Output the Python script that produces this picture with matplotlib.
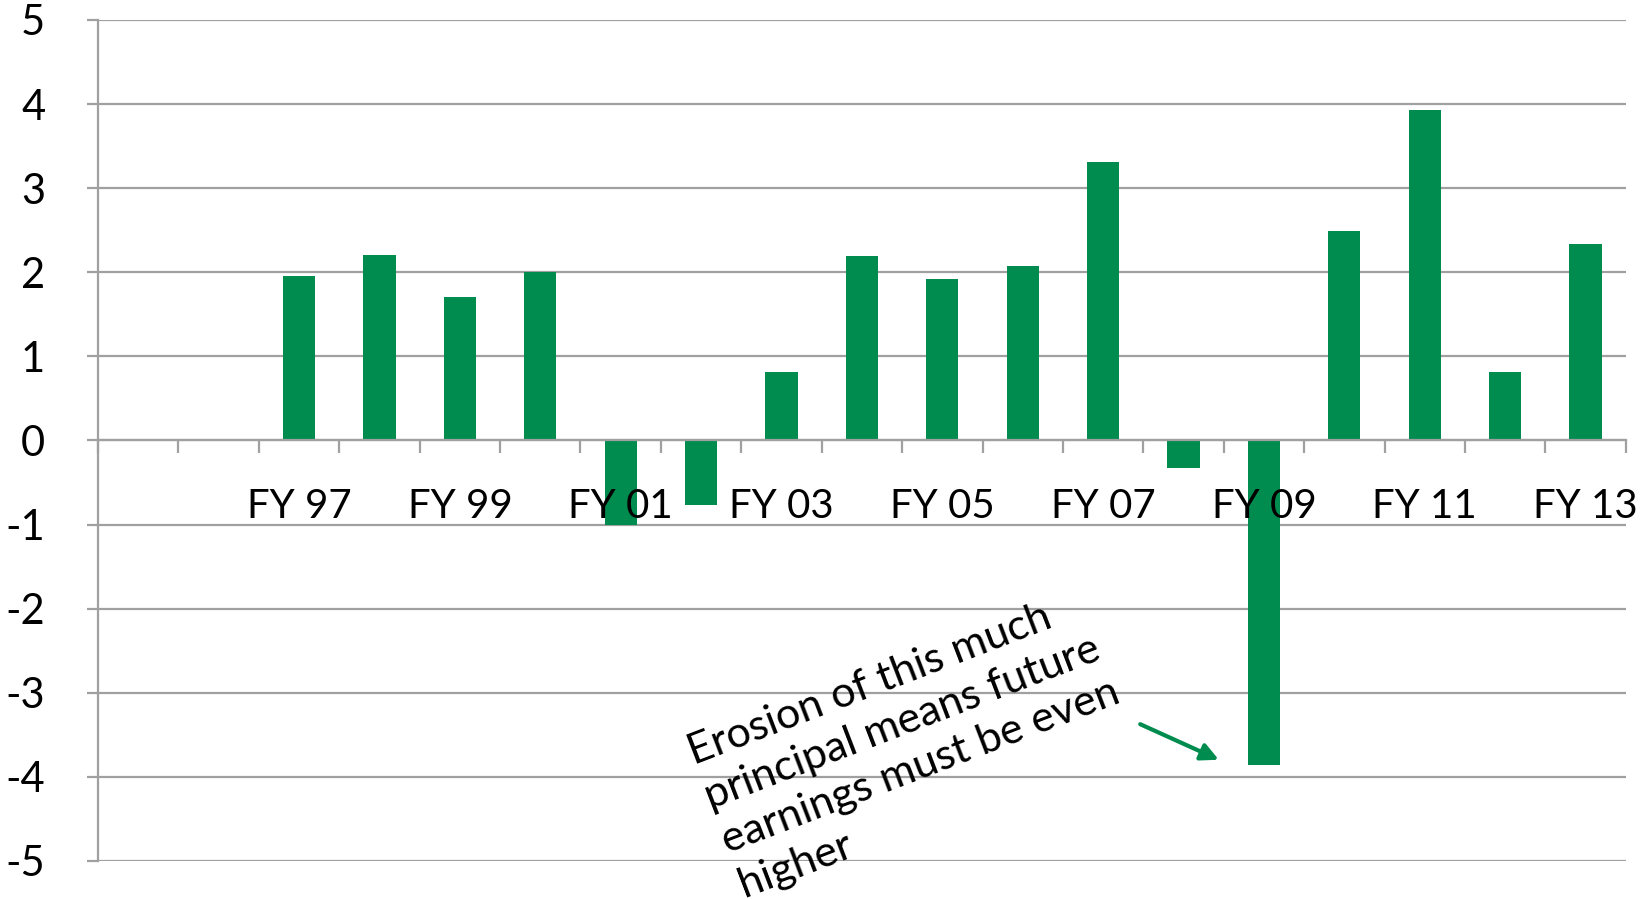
import matplotlib
matplotlib.use("Agg")
import matplotlib.pyplot as plt
from matplotlib.ticker import FixedLocator, NullFormatter
import numpy as np

# data (first two slots have no bar and no label)
years = ['', '', 'FY 97', 'FY 98', 'FY 99', 'FY 00', 'FY 01', 'FY 02', 'FY 03',
         'FY 04', 'FY 05', 'FY 06', 'FY 07', 'FY 08', 'FY 09', 'FY 10',
         'FY 11', 'FY 12', 'FY 13']
values = [np.nan, np.nan, 1.95, 2.21, 1.70, 2.0, -1.0, -0.77, 0.81,
          2.19, 1.92, 2.07, 3.31, -0.33, -3.86, 2.49,
          3.93, 0.82, 2.34]
yticks = [-5, -4, -3, -2, -1, 0, 1, 2, 3, 4, 5]
note = "Erosion of this much\nprincipal means future\nearnings must be even\nhigher"

green = '#008C4E'
grey = '#A0A0A0'

plt.rcParams['font.family'] = ['Lato', 'DejaVu Sans']

fig = plt.figure(figsize=(16.48, 8.99), dpi=100)
ax = fig.add_axes([0.0595, 0.0423, 0.927, 0.9355])

x = np.arange(len(years))
ax.bar(x, values, width=0.4, color=green, zorder=1)

ax.set_xlim(-0.5, len(years) - 0.5)
ax.set_ylim(-5, 5)

# gridlines under the bars
ax.hlines(yticks, -0.5, len(years) - 0.5, colors=grey, linewidth=1.6, zorder=0.5)

for s in ['top', 'right']:
    ax.spines[s].set_visible(False)
ax.spines['left'].set_color(grey)
ax.spines['left'].set_linewidth(1.6)
ax.spines['bottom'].set_position(('data', 0))
ax.spines['bottom'].set_color(grey)
ax.spines['bottom'].set_linewidth(1.6)

ax.set_yticks(yticks)
ax.set_yticklabels([str(v) for v in yticks])
ax.tick_params(axis='y', length=8, width=1.6, color=grey, pad=30, labelsize=30)

# labels every other category, tick marks between categories
ax.set_xticks(x[::2])
ax.set_xticklabels(years[::2])
ax.xaxis.set_minor_locator(FixedLocator(np.arange(-0.5, len(years), 1.0)))
ax.xaxis.set_minor_formatter(NullFormatter())
ax.tick_params(axis='x', which='major', length=0, pad=34, labelsize=29)
ax.tick_params(axis='x', which='minor', length=9, width=1.6, color=grey, direction='out')

ax.annotate('', xy=(13.47, -3.81), xytext=(12.43, -3.36),
            arrowprops=dict(arrowstyle='-|>', color=green, lw=3, mutation_scale=26))
# anchored at the baseline of the last line
ax.text(7.5, -5.33, note, rotation=21, rotation_mode='anchor', ha='left', va='baseline',
        fontsize=31, linespacing=1.3, color='black')

fig.savefig('out.png', dpi=100)
